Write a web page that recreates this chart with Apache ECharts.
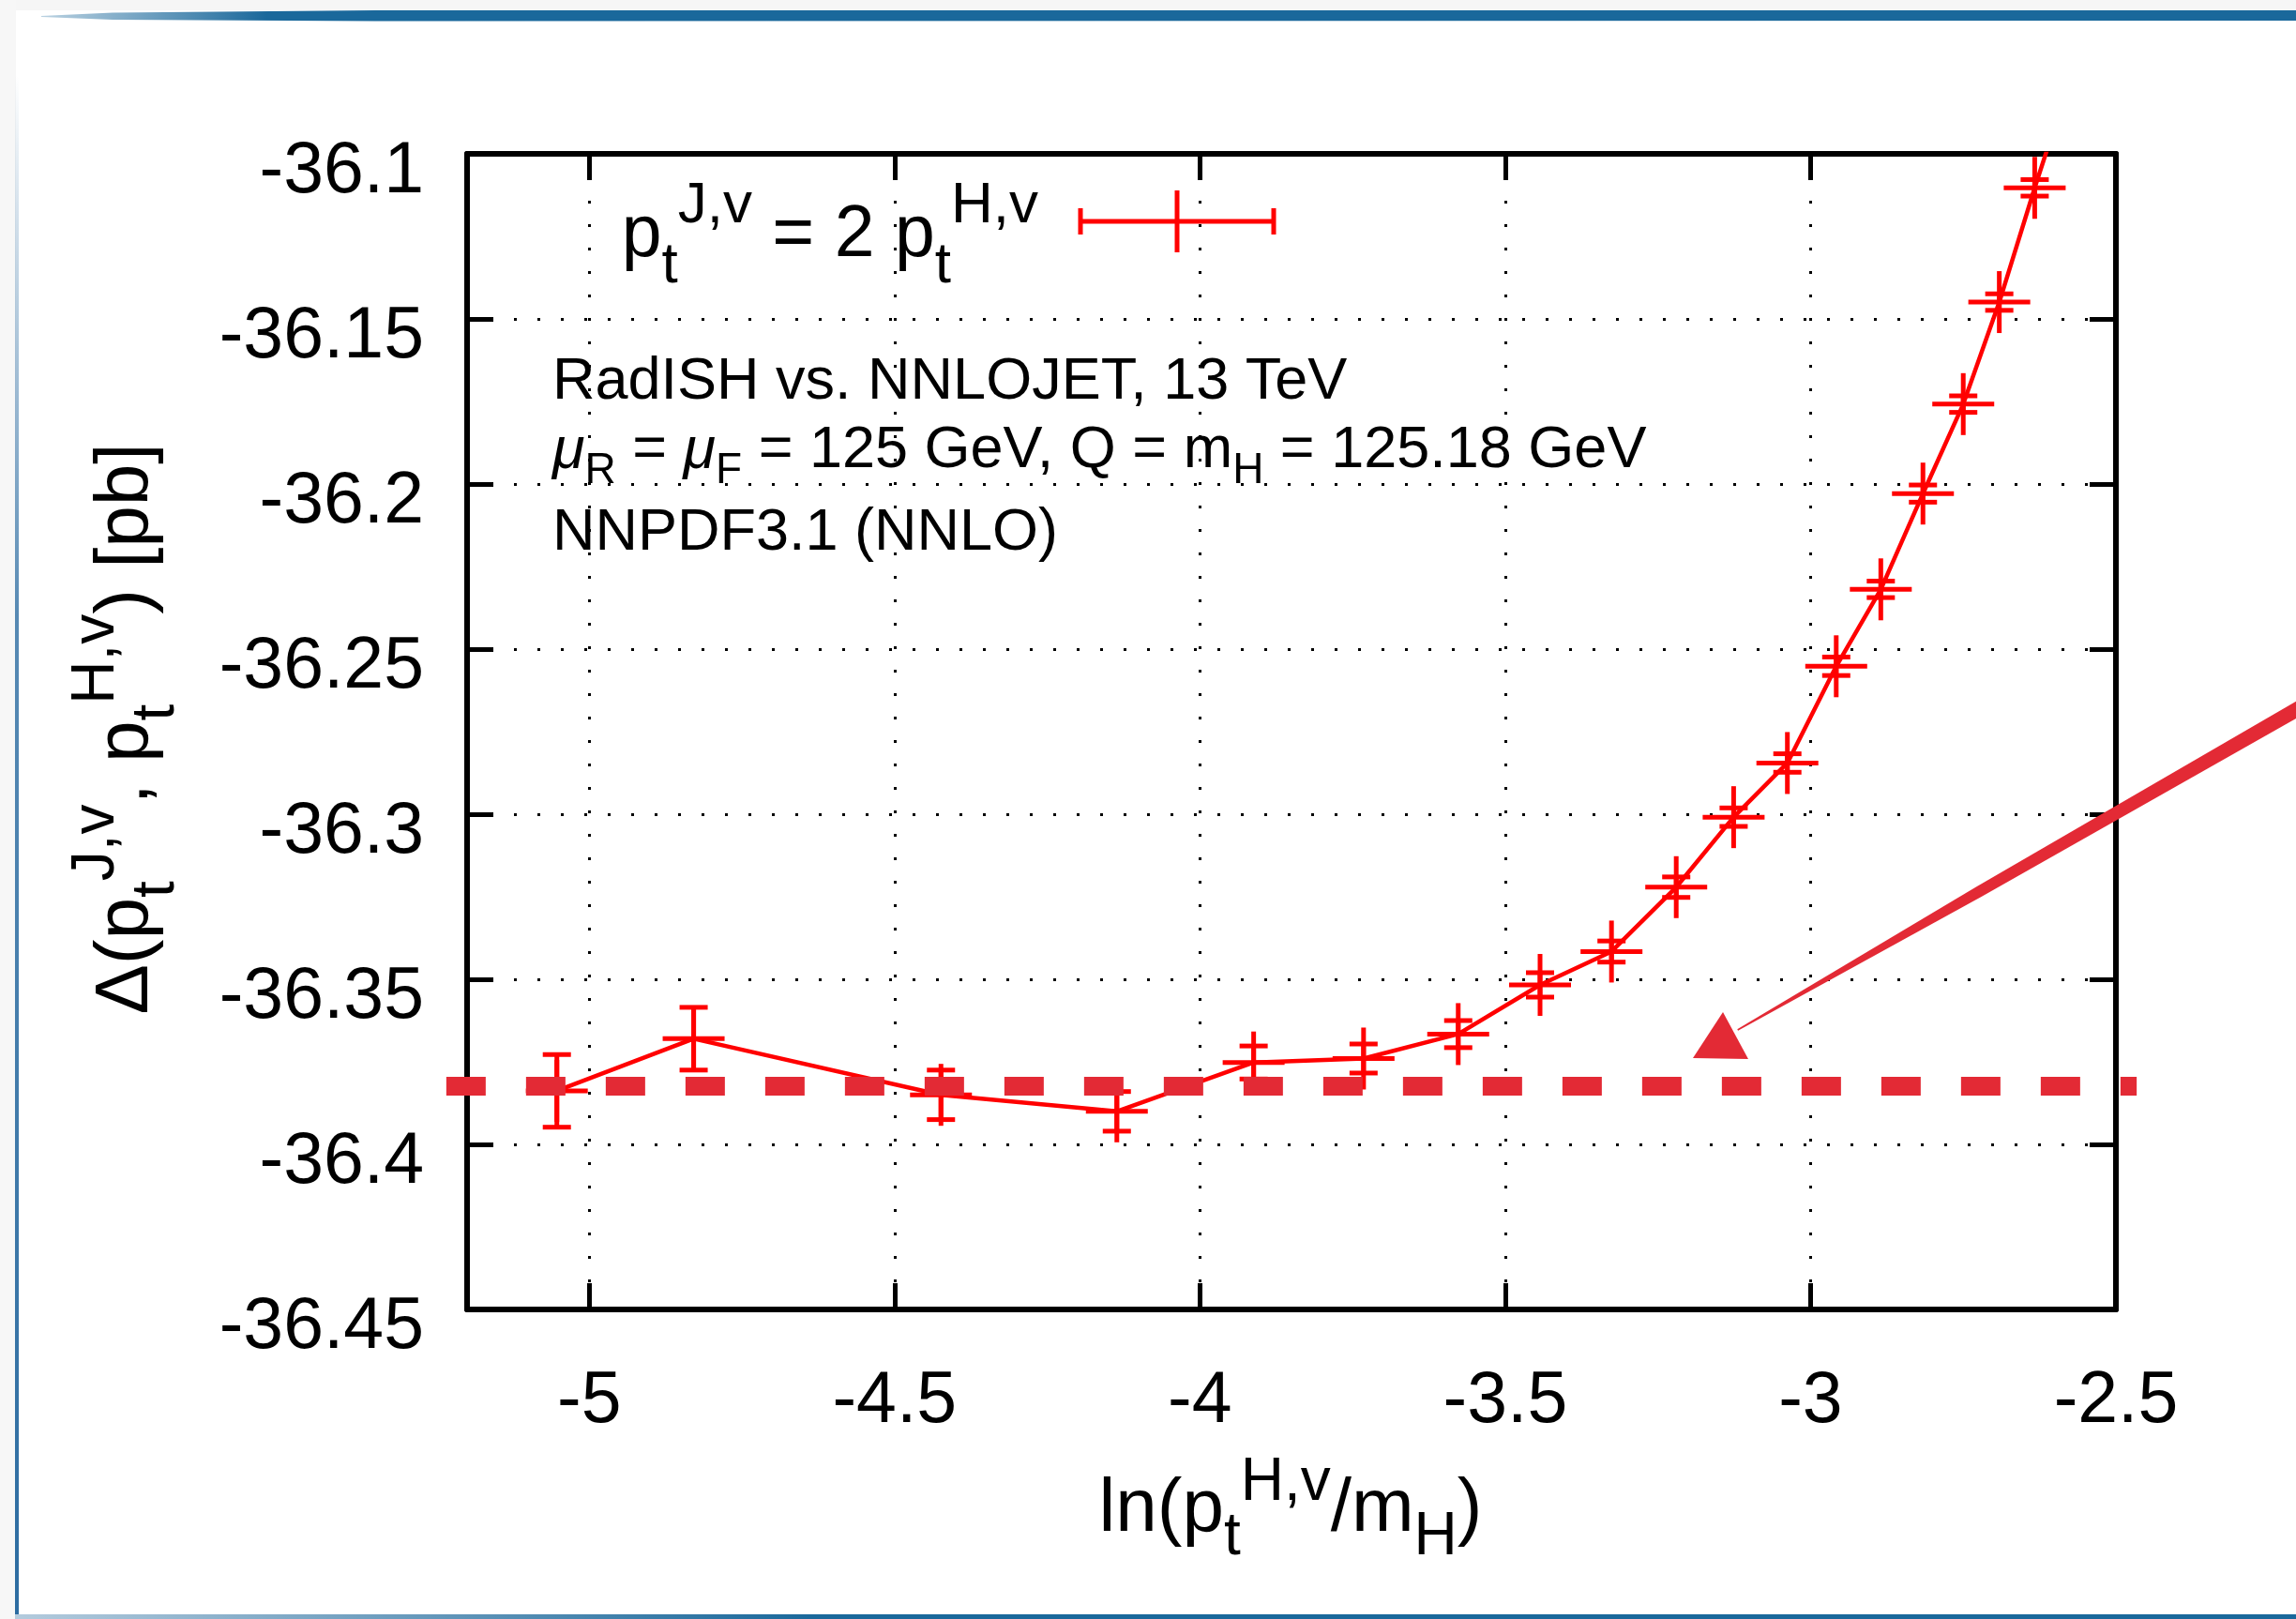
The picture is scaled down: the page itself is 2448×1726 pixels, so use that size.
<!DOCTYPE html>
<html>
<head>
<meta charset="utf-8">
<script src="https://cdn.jsdelivr.net/npm/echarts@6/dist/echarts.min.js"></script>
<style>
html, body { margin: 0; padding: 0; background: #fff; }
#chart { width: 2448px; height: 1726px; }
</style>
</head>
<body>
<div id="chart"></div>
<script>
// x = ln(pt/mH), one point per pt bin (0.8, 1, 1.5 ... 9.5 GeV)
var xVals = [-5.053, -4.829, -4.424, -4.136, -3.912, -3.732, -3.577, -3.443, -3.326, -3.220,
             -3.126, -3.038, -2.958, -2.885, -2.816, -2.750, -2.691, -2.633, -2.578];
// delta in pb
var yVals = [-36.3838, -36.368, -36.385, -36.390, -36.3752, -36.374, -36.3666, -36.3517, -36.3416, -36.3221,
             -36.3009, -36.2845, -36.2552, -36.2319, -36.2029, -36.1758, -36.1449, -36.1103, -36.079];
var yErrs = [0.011, 0.0095, 0.0075, 0.006, 0.005, 0.0044, 0.0041, 0.0037, 0.0032, 0.0031,
             0.0028, 0.0028, 0.0028, 0.0025, 0.0026, 0.0025, 0.0025, 0.0025, 0.0025];

// axis ranges
var xMin = -5.2, xMax = -2.5, xStep = 0.5;
var yMin = -36.45, yMax = -36.1, yStep = 0.05;

// hand drawn reference level (dashed) on the slide
var refLevel = -36.3824;
var refSpan = [-5.234, -2.466];

var FONT = 'Liberation Sans';
var RED = '#ff0000';
var MARK = '#e32a35';

var myChart = echarts.init(document.getElementById('chart'));

function errBar(params, api) {
    var x = api.value(0), y = api.value(1), e = api.value(2);
    var c = api.coord([x, y]);
    var hi = api.coord([x, y + e]);
    var lo = api.coord([x, y - e]);
    function seg(x1, y1, x2, y2) {
        return { type: 'line', shape: { x1: x1, y1: y1, x2: x2, y2: y2 },
                 style: { stroke: RED, lineWidth: 5 } };
    }
    return {
        type: 'group',
        children: [
            seg(c[0], hi[1], c[0], lo[1]),
            seg(c[0] - 15, hi[1], c[0] + 15, hi[1]),
            seg(c[0] - 15, lo[1], c[0] + 15, lo[1]),
            seg(c[0] - 33, c[1], c[0] + 33, c[1]),
            seg(c[0], c[1] - 33, c[0], c[1] + 33)
        ]
    };
}

var points = [];
var errData = [];
for (var i = 0; i < xVals.length; i++) {
    points.push([xVals[i], yVals[i]]);
    errData.push([xVals[i], yVals[i], yErrs[i]]);
}

// rich text styles; the line height of the main text sets how far
// the top/bottom aligned super/subscripts move away from it
function richSet(main, small, lh) {
    return {
        m: { fontSize: main, fontFamily: FONT, fill: '#000', color: '#000', lineHeight: lh },
        mi: { fontSize: main, fontFamily: FONT, fontStyle: 'italic', fill: '#000', color: '#000', lineHeight: lh },
        s: { fontSize: small, fontFamily: FONT, fill: '#000', color: '#000', verticalAlign: 'top' },
        b: { fontSize: small, fontFamily: FONT, fill: '#000', color: '#000', verticalAlign: 'bottom' }
    };
}

var axisLineStyle = { color: '#000', width: 6 };
var tickStyle = { show: true, inside: true, length: 28, lineStyle: { color: '#000', width: 5 } };
var gridDots = { show: true, lineStyle: { color: '#000', width: 3, type: [3, 22] } };

option = {
    backgroundColor: '#fff',
    animation: false,
    textStyle: { fontFamily: FONT },
    grid: { left: 498, right: 192, top: 164, bottom: 330, containLabel: false },
    xAxis: [{
        type: 'value',
        min: xMin, max: xMax,
        minInterval: xStep, maxInterval: xStep,
        position: 'bottom',
        axisLine: { show: true, onZero: false, lineStyle: axisLineStyle },
        axisTick: tickStyle,
        axisLabel: { show: true, margin: 60, fontSize: 77, lineHeight: 78, color: '#000',
                     fontFamily: FONT, showMinLabel: false },
        splitLine: gridDots
    }, {
        type: 'value',
        min: xMin, max: xMax,
        minInterval: xStep, maxInterval: xStep,
        position: 'top',
        axisLine: { show: true, onZero: false, lineStyle: axisLineStyle },
        axisTick: tickStyle,
        axisLabel: { show: false },
        splitLine: { show: false }
    }],
    yAxis: [{
        type: 'value',
        min: yMin, max: yMax, interval: yStep,
        position: 'left',
        axisLine: { show: true, onZero: false, lineStyle: axisLineStyle },
        axisTick: tickStyle,
        axisLabel: { show: true, margin: 46, fontSize: 77, lineHeight: 40, color: '#000',
                     fontFamily: FONT, verticalAlign: 'top' },
        splitLine: gridDots
    }, {
        type: 'value',
        min: yMin, max: yMax, interval: yStep,
        position: 'right',
        axisLine: { show: true, onZero: false, lineStyle: axisLineStyle },
        axisTick: tickStyle,
        axisLabel: { show: false },
        splitLine: { show: false }
    }],
    series: [
        {
            type: 'line',
            data: points,
            showSymbol: false,
            symbol: 'none',
            lineStyle: { color: RED, width: 4.5 },
            z: 3,
            silent: true
        },
        {
            type: 'custom',
            data: errData,
            renderItem: errBar,
            clip: true,
            z: 4,
            silent: true
        }
    ],
    graphic: [
        // slide frame
        { type: 'rect', shape: { x: 0, y: 0, width: 2448, height: 11 }, style: { fill: '#f6f6f6' }, z: 0 },
        { type: 'rect', shape: { x: 0, y: 0, width: 17, height: 1726 }, style: { fill: '#f7f7f7' }, z: 0 },
        { type: 'polygon', shape: { points: [[44, 17], [120, 13.5], [400, 11], [2448, 11], [2448, 22], [400, 22.5], [120, 21], [44, 18]] },
          style: { fill: new echarts.graphic.LinearGradient(0, 0, 1, 0, [
              { offset: 0, color: 'rgba(26,104,155,0.3)' },
              { offset: 0.1, color: '#1a689b' },
              { offset: 1, color: '#1a689b' }]) }, z: 1 },
        { type: 'rect', shape: { x: 16, y: 80, width: 4, height: 1646 },
          style: { fill: new echarts.graphic.LinearGradient(0, 0, 0, 1, [
              { offset: 0, color: 'rgba(44,108,161,0)' },
              { offset: 0.35, color: 'rgba(44,108,161,0.8)' },
              { offset: 1, color: '#2c6ca1' }]) }, z: 1 },
        { type: 'rect', shape: { x: 16, y: 1721, width: 2432, height: 5 },
          style: { fill: new echarts.graphic.LinearGradient(0, 0, 1, 0, [
              { offset: 0, color: '#b4cbdd' },
              { offset: 0.35, color: '#1a689b' },
              { offset: 1, color: '#1a689b' }]) }, z: 1 },

        // legend
        { type: 'text', x: 1107, y: 252, z: 20,
          style: { text: '{m|p}{b|t}{s|J,v}{m| = 2 p}{b|t}{s|H,v}', align: 'right', verticalAlign: 'middle',
                   rich: richSet(77, 62, 126) } },
        { type: 'group', z: 20, children: [
            { type: 'line', shape: { x1: 1152, y1: 236, x2: 1358, y2: 236 }, style: { stroke: RED, lineWidth: 5 } },
            { type: 'line', shape: { x1: 1152, y1: 222, x2: 1152, y2: 250 }, style: { stroke: RED, lineWidth: 5 } },
            { type: 'line', shape: { x1: 1358, y1: 222, x2: 1358, y2: 250 }, style: { stroke: RED, lineWidth: 5 } },
            { type: 'line', shape: { x1: 1255, y1: 203, x2: 1255, y2: 269 }, style: { stroke: RED, lineWidth: 5 } }
        ] },

        // labels in the plot
        { type: 'text', x: 589, y: 408, z: 20,
          style: { text: 'RadISH vs. NNLOJET, 13 TeV', fontSize: 63, fontFamily: FONT, fill: '#000',
                   align: 'left', verticalAlign: 'middle' } },
        { type: 'text', x: 589, y: 481, z: 20,
          style: { text: '{mi|μ}{b|R}{m| = }{mi|μ}{b|F}{m| = 125 GeV, Q = m}{b|H}{m| = 125.18 GeV}',
                   align: 'left', verticalAlign: 'middle', rich: richSet(63, 46, 88) } },
        { type: 'text', x: 589, y: 569, z: 20,
          style: { text: 'NNPDF3.1 (NNLO)', fontSize: 63, fontFamily: FONT, fill: '#000',
                   align: 'left', verticalAlign: 'middle' } },

        // axis titles
        { type: 'text', x: 1376, y: 1610, z: 20,
          style: { text: '{m|ln(p}{b|t}{s|H,v}{m|/m}{b|H}{m|)}', align: 'center', verticalAlign: 'middle',
                   rich: richSet(80, 64, 122) } },
        { type: 'text', x: 135, y: 777, rotation: Math.PI / 2, z: 20,
          style: { text: '{m|Δ(p}{b|t}{s|J,v}{m|, p}{b|t}{s|H,v}{m|) [pb]}', align: 'center', verticalAlign: 'middle',
                   rich: richSet(80, 64, 128) } },

        // hand drawn arrow
        { type: 'polygon', z: 100,
          shape: { points: [[2464.0, 757.0], [2456.0, 743.2], [2107.0, 945.4], [1852.3, 1097.3], [1853.1, 1098.7], [2113.0, 955.8]] },
          style: { fill: MARK } },
        { type: 'polygon', z: 100,
          shape: { points: [[1837, 1079], [1805, 1128], [1864, 1129]] },
          style: { fill: MARK } }
    ]
};

myChart.setOption(option);

// dashed reference level, placed through the chart's own scales (runs past the frame)
var p0 = myChart.convertToPixel({ gridIndex: 0 }, [refSpan[0], refLevel]);
var p1 = myChart.convertToPixel({ gridIndex: 0 }, [refSpan[1], refLevel]);
option.graphic.push({
    type: 'line', z: 10,
    shape: { x1: p0[0], y1: p0[1], x2: p1[0], y2: p1[1] },
    style: { stroke: MARK, lineWidth: 20, lineDash: [42, 43], lineCap: 'butt' }
});
myChart.setOption(option);
</script>
</body>
</html>
